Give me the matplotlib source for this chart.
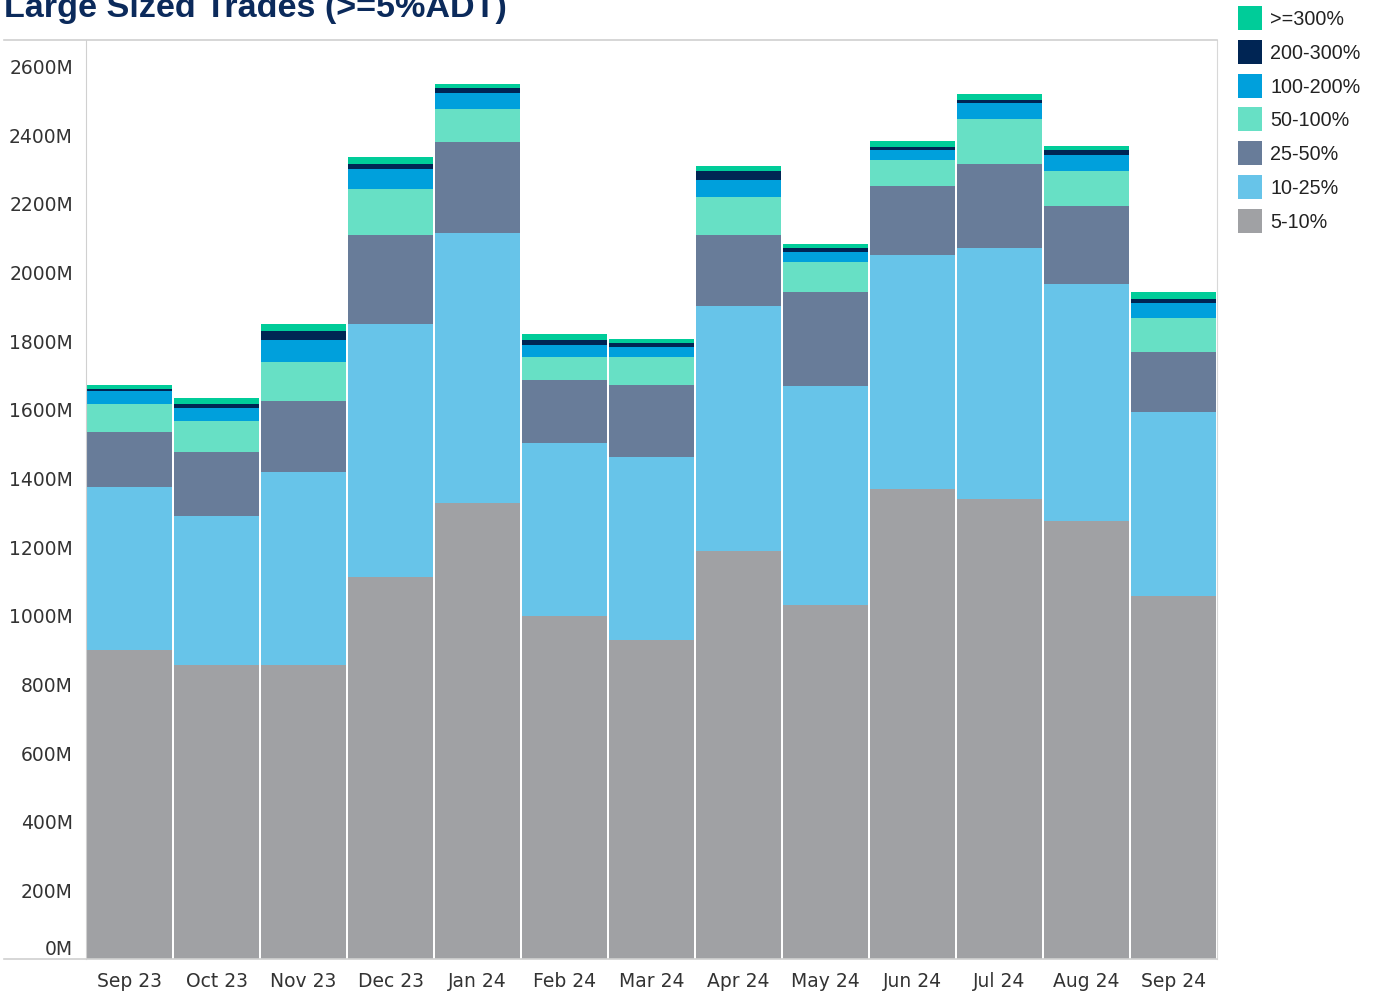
import matplotlib.pyplot as plt
from matplotlib.patches import Rectangle
from matplotlib.lines import Line2D
import numpy as np

months = ['Sep 23', 'Oct 23', 'Nov 23', 'Dec 23', 'Jan 24', 'Feb 24', 'Mar 24',
          'Apr 24', 'May 24', 'Jun 24', 'Jul 24', 'Aug 24', 'Sep 24']

# values in millions, bottom segment first
b_5_10 = [900, 856, 856, 1113, 1328, 999, 929, 1189, 1031, 1369, 1340, 1276, 1057]
b_10_25 = [475, 434, 562, 737, 787, 504, 533, 714, 638, 682, 731, 690, 536]
b_25_50 = [160, 186, 207, 259, 265, 184, 210, 207, 274, 201, 245, 227, 175]
b_50_100 = [82, 90, 114, 134, 96, 67, 82, 111, 87, 76, 131, 102, 99]
b_100_200 = [38, 38, 64, 58, 47, 35, 29, 47, 29, 29, 47, 47, 44]
b_200_300 = [6, 12, 26, 15, 15, 15, 12, 26, 12, 9, 9, 15, 12]
b_300 = [12, 17, 20, 20, 12, 17, 12, 17, 12, 17, 17, 12, 20]

series = [b_5_10, b_10_25, b_25_50, b_50_100, b_100_200, b_200_300, b_300]
labels = ['5-10%', '10-25%', '25-50%', '50-100%', '100-200%', '200-300%', '>=300%']
colors = ['#a0a1a4', '#67c4e9', '#687c99', '#67e0c5', '#00a0dc', '#002554', '#00cc99']

yticks = list(range(0, 2601, 200))

W, H = 1377, 996
fig = plt.figure(figsize=(W / 100, H / 100), dpi=100)
ax = fig.add_axes([86 / W, 1 - 959 / H, (1217 - 86) / W, (959 - 40) / H])

x = np.arange(len(months))
bottom = np.zeros(len(months))
for vals, lab, col in zip(series, labels, colors):
    ax.bar(x, vals, width=0.977, bottom=bottom, color=col, label=lab, linewidth=0)
    bottom += np.array(vals)

ax.set_xlim(-0.5, len(months) - 0.5)
ax.set_ylim(0, 2677)
ax.set_xticks(x)
ax.set_xticklabels(months, fontsize=13.5, color='#333333')
ax.set_yticks(yticks)
ax.set_yticklabels([f'{v}M' for v in yticks], fontsize=13.5, color='#333333')
ax.tick_params(axis='both', length=0)
ax.tick_params(axis='x', pad=9.5)
ax.tick_params(axis='y', pad=9.4)
# Tableau keeps the bottom label inside the pane
ax.get_yticklabels()[0].set_verticalalignment('bottom')

for s in ['top', 'bottom']:
    ax.spines[s].set_visible(False)
ax.spines['left'].set_color('#d0d0d0')
ax.spines['right'].set_color('#d8d8d8')

# frame lines across the whole pane, including the label column
for yy in [40, 959]:
    fig.add_artist(Line2D([4 / W, 1217 / W], [1 - yy / H, 1 - yy / H],
                          color='#d0d0d0', linewidth=1.2))

fig.text(4 / W, 1 - 17 / H, 'Large Sized Trades (>=5%ADT)', fontsize=24.6,
         fontweight='bold', color='#0b2a5b', family='Liberation Sans',
         ha='left', va='baseline')

# legend, top entry is the last series
for i, (lab, col) in enumerate(zip(labels[::-1], colors[::-1])):
    yc = 18 + i * 33.8
    fig.add_artist(Rectangle((1238 / W, 1 - (yc + 12) / H), 24 / W, 24 / H,
                             transform=fig.transFigure, color=col, linewidth=0))
    fig.text(1270 / W, 1 - (yc + 1.5) / H, lab, fontsize=14.2, color='#222222',
             family='Liberation Sans', ha='left', va='center')

fig.savefig('out.png', dpi=100)
